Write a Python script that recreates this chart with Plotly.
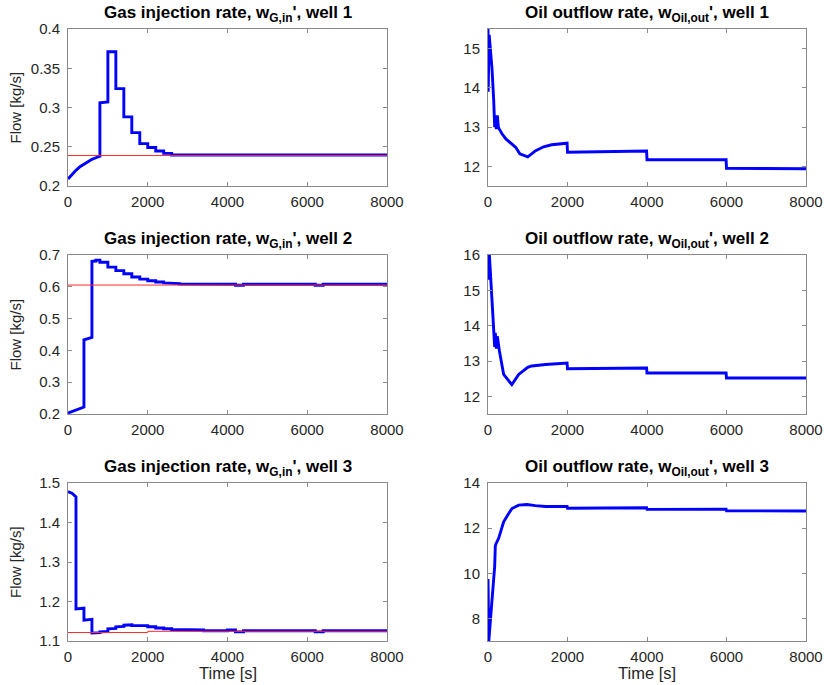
import plotly.graph_objects as go

# ---- simulation results (time in s, flow in kg/s) ----
# Gas injection rate per well (MPC input) and its steady-state optimum
gas1_t = [0, 100, 200, 300, 400, 500, 600, 700, 800, 800, 1000, 1000, 1200, 1200, 1400, 1400,
          1600, 1600, 1800, 1800, 2000, 2000, 2200, 2200, 2400, 2400, 2600, 2600, 8000]
gas1_w = [0.209, 0.215, 0.220, 0.2245, 0.228, 0.231, 0.234, 0.236, 0.238, 0.306, 0.307, 0.371,
          0.371, 0.324, 0.324, 0.288, 0.288, 0.268, 0.268, 0.254, 0.254, 0.249, 0.249, 0.2445,
          0.2445, 0.2415, 0.2415, 0.2395, 0.2395]
gas1_ref_t = [0, 8000]
gas1_ref_w = [0.2388, 0.2388]

gas2_t = [0, 400, 400, 600, 600, 700, 700, 800, 800, 1000, 1000, 1200, 1200, 1400, 1400, 1600,
          1600, 1800, 1800, 2000, 2000, 2200, 2200, 2400, 2400, 2600, 2600, 2800, 2800, 3200,
          3200, 4200, 4200, 4400, 4400, 6200, 6200, 6400, 6400, 8000]
gas2_w = [0.203, 0.222, 0.433, 0.441, 0.680, 0.681, 0.684, 0.684, 0.677, 0.677, 0.662, 0.662,
          0.651, 0.651, 0.641, 0.641, 0.631, 0.631, 0.624, 0.624, 0.619, 0.619, 0.615, 0.615,
          0.612, 0.612, 0.610, 0.610, 0.609, 0.609, 0.608, 0.608, 0.605, 0.605, 0.608, 0.608,
          0.605, 0.605, 0.608, 0.608]
gas2_ref_t = [0, 8000]
gas2_ref_w = [0.6055, 0.6055]

gas3_t = [0, 100, 200, 200, 400, 400, 600, 600, 800, 800, 1000, 1000, 1200, 1200, 1400, 1400,
          1600, 1600, 1800, 1800, 2000, 2000, 2200, 2200, 2400, 2400, 2600, 2600, 2800, 2800,
          3400, 3400, 4000, 4000, 4200, 4200, 4400, 4400, 6200, 6200, 6400, 6400, 8000]
gas3_w = [1.478, 1.474, 1.465, 1.181, 1.183, 1.153, 1.155, 1.120, 1.121, 1.123, 1.124, 1.131,
          1.132, 1.136, 1.137, 1.140, 1.141, 1.139, 1.139, 1.139, 1.139, 1.136, 1.136, 1.133,
          1.133, 1.131, 1.131, 1.129, 1.129, 1.128, 1.128, 1.126, 1.126, 1.128, 1.128, 1.123,
          1.123, 1.126, 1.126, 1.123, 1.123, 1.126, 1.126]
gas3_ref_t = [0, 2000, 2000, 8000]
gas3_ref_w = [1.1215, 1.1215, 1.1245, 1.1245]

# Oil outflow rate per well
oil1_t = [0, 5, 30, 100, 143, 168, 184, 210, 235, 260, 285, 352, 450, 604, 700, 800, 1000,
          1200, 1400, 1600, 1800, 1990, 2000, 3000, 3990, 4000, 5000, 5990, 6000, 8000]
oil1_w = [15.6, 13.9, 15.35, 14.5, 13.7, 13.0, 13.3, 12.95, 13.3, 13.0, 12.95, 12.83, 12.7,
          12.55, 12.48, 12.32, 12.24, 12.40, 12.50, 12.55, 12.58, 12.59, 12.36, 12.38, 12.39,
          12.17, 12.17, 12.17, 11.95, 11.94]

oil2_t = [0, 5, 35, 100, 143, 168, 184, 210, 235, 260, 285, 394, 600, 772, 1000, 1100, 1450,
          1990, 2000, 3990, 4000, 5990, 6000, 8000]
oil2_w = [16.1, 15.3, 16.0, 14.6, 13.8, 13.4, 13.8, 13.35, 13.7, 13.4, 13.3, 12.62, 12.33,
          12.62, 12.82, 12.86, 12.9, 12.94, 12.78, 12.80, 12.66, 12.66, 12.52, 12.52]

oil3_t = [0, 20, 100, 168, 184, 200, 268, 394, 520, 604, 772, 981, 1191, 1442, 1990, 2000,
          3990, 4000, 5990, 6000, 8000]
oil3_w = [9.75, 7.0, 8.8, 10.3, 11.2, 11.3, 11.55, 12.28, 12.65, 12.87, 13.02, 13.05, 13.0,
          12.96, 12.96, 12.88, 12.9, 12.83, 12.84, 12.77, 12.76]

# ---- axis ticks ----
time_ticks = [0, 2000, 4000, 6000, 8000]
time_labels = ["0", "2000", "4000", "6000", "8000"]
gas1_ticks = [0.2, 0.25, 0.3, 0.35, 0.4]
gas1_labels = ["0.2", "0.25", "0.3", "0.35", "0.4"]
gas2_ticks = [0.2, 0.3, 0.4, 0.5, 0.6, 0.7]
gas2_labels = ["0.2", "0.3", "0.4", "0.5", "0.6", "0.7"]
gas3_ticks = [1.1, 1.2, 1.3, 1.4, 1.5]
gas3_labels = ["1.1", "1.2", "1.3", "1.4", "1.5"]
oil1_ticks = [12, 13, 14, 15]
oil2_ticks = [12, 13, 14, 15, 16]
oil3_ticks = [8, 10, 12, 14]

W, H = 824, 685
BLUE = "#0000ff"
RED = "#ff2a2a"
AXIS = "#8a8a8a"
TXT = "#262626"
FONT = "Liberation Sans, Arial, Helvetica, sans-serif"

# plot boxes in pixels: (left, right, top, bottom)
col_px = [(68, 387), (488, 806)]
row_px = [(29, 186), (255, 414), (483, 641)]

panels = [
    # row, col, t, w, ref_t, ref_w, yrange, yticks, ylabels, title
    (0, 0, gas1_t, gas1_w, gas1_ref_t, gas1_ref_w, [0.2, 0.4], gas1_ticks, gas1_labels,
     "Gas injection rate, w<sub>G,in</sub>', well 1"),
    (0, 1, oil1_t, oil1_w, None, None, [11.5, 15.5], oil1_ticks, [str(v) for v in oil1_ticks],
     "Oil outflow rate, w<sub>Oil,out</sub>', well 1"),
    (1, 0, gas2_t, gas2_w, gas2_ref_t, gas2_ref_w, [0.2, 0.7], gas2_ticks, gas2_labels,
     "Gas injection rate, w<sub>G,in</sub>', well 2"),
    (1, 1, oil2_t, oil2_w, None, None, [11.5, 16], oil2_ticks, [str(v) for v in oil2_ticks],
     "Oil outflow rate, w<sub>Oil,out</sub>', well 2"),
    (2, 0, gas3_t, gas3_w, gas3_ref_t, gas3_ref_w, [1.1, 1.5], gas3_ticks, gas3_labels,
     "Gas injection rate, w<sub>G,in</sub>', well 3"),
    (2, 1, oil3_t, oil3_w, None, None, [7, 14], oil3_ticks, [str(v) for v in oil3_ticks],
     "Oil outflow rate, w<sub>Oil,out</sub>', well 3"),
]

fig = go.Figure()
layout = dict(
    template="none",
    width=W, height=H,
    margin=dict(l=0, r=0, t=0, b=0, autoexpand=False),
    paper_bgcolor="white", plot_bgcolor="white",
    showlegend=False,
    font=dict(family=FONT, size=15, color=TXT),
)
annotations = []

for i, (r, c, t, w, rt, rw, yr, yt, yl, title) in enumerate(panels):
    n = "" if i == 0 else str(i + 1)
    xa, ya = "x" + n, "y" + n
    left, right = col_px[c]
    top, bottom = row_px[r]
    xdom = [left / W, right / W]
    ydom = [1 - bottom / H, 1 - top / H]

    fig.add_trace(go.Scatter(x=t, y=w, mode="lines", xaxis=xa, yaxis=ya,
                             line=dict(color=BLUE, width=2.9), hoverinfo="skip"))
    if rt is not None:
        fig.add_trace(go.Scatter(x=rt, y=rw, mode="lines", xaxis=xa, yaxis=ya,
                                 line=dict(color=RED, width=1), hoverinfo="skip"))

    common = dict(showline=True, mirror="ticks", linecolor=AXIS, linewidth=1,
                  ticks="inside", ticklen=4, tickcolor=AXIS, tickwidth=1,
                  showgrid=False, zeroline=False, fixedrange=True, automargin=False,
                  tickfont=dict(family=FONT, size=15, color=TXT))
    layout["xaxis" + n] = dict(domain=xdom, anchor=ya, range=[0, 8000],
                               tickvals=time_ticks, ticktext=time_labels,
                               ticklabelstandoff=2, **common)
    layout["yaxis" + n] = dict(domain=ydom, anchor=xa, range=yr,
                               tickvals=yt, ticktext=yl, ticklabelstandoff=4, **common)

    annotations.append(dict(
        text="<b>" + title + "</b>", xref="paper", yref="paper",
        x=(left + right) / 2 / W, y=1 - (top - 2) / H,
        xanchor="center", yanchor="bottom", showarrow=False,
        font=dict(family=FONT, size=17, color="black")))

    if c == 0:
        annotations.append(dict(
            text="Flow [kg/s]", xref="paper", yref="paper",
            x=15 / W, y=1 - (top + bottom) / 2 / H, textangle=-90,
            xanchor="center", yanchor="middle", showarrow=False,
            font=dict(family=FONT, size=15, color=TXT)))
    if r == 2:
        annotations.append(dict(
            text="Time [s]", xref="paper", yref="paper",
            x=(left + right) / 2 / W, y=1 - 684 / H,
            xanchor="center", yanchor="bottom", showarrow=False,
            font=dict(family=FONT, size=16.5, color=TXT)))

layout["annotations"] = annotations
fig.update_layout(**layout)
fig.write_html("out.html")
